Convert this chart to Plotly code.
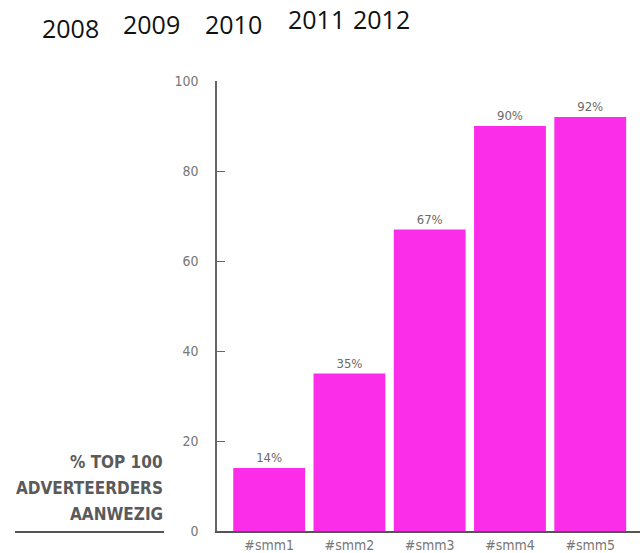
import plotly.graph_objects as go

categories = ["#smm1", "#smm2", "#smm3", "#smm4", "#smm5"]
values = [14, 35, 67, 90, 92]
value_labels = ["14%", "35%", "67%", "90%", "92%"]
years = ["2008", "2009", "2010", "2011", "2012"]
side_label = ["% TOP 100", "ADVERTEERDERS", "AANWEZIG"]
y_ticks = [0, 20, 40, 60, 80, 100]

W, H = 640, 553
L, R, T, B = 217, 0, 81, 22
pw, ph = W - L - R, H - T - B

def px(x):
    return (x - L) / pw

def py(y):
    return (H - B - y) / ph

fig = go.Figure()
fig.add_trace(go.Bar(
    x=list(range(len(categories))), y=values,
    marker=dict(color="#fc2de8", line=dict(width=0)),
    text=value_labels, textposition="outside",
    textfont=dict(family="DejaVu Sans Condensed, DejaVu Sans", size=13, color="#6a6a6a"),
    cliponaxis=False,
))

year_pos = [(40, 27.5), (121, 23.5), (203, 24), (286, 19), (351, 19)]
annotations = []
for t, (x, y) in zip(years, year_pos):
    annotations.append(dict(text=t, xref="paper", yref="paper", x=px(x), y=py(y),
                            xanchor="left", yanchor="middle", showarrow=False,
                            font=dict(family="Open Sans", size=25, color="#111")))
for t, y in zip(side_label, [462, 488, 514]):
    annotations.append(dict(text=t, xref="paper", yref="paper", x=px(165), y=py(y),
                            xanchor="right", yanchor="middle", showarrow=False,
                            font=dict(family="DejaVu Sans Condensed, DejaVu Sans", size=17,
                                      color="#5a5a5a", weight="bold")))

fig.update_layout(
    width=W, height=H,
    margin=dict(l=L, r=R, t=T, b=B),
    paper_bgcolor="white", plot_bgcolor="white",
    showlegend=False, bargap=0.105,
    annotations=annotations,
    shapes=[dict(type="line", xref="paper", yref="paper", x0=px(15), x1=px(164), y0=py(532), y1=py(532),
                 line=dict(color="#555", width=2))],
    xaxis=dict(range=[-0.65, 4.62], tickmode="array", tickvals=list(range(len(categories))),
               ticktext=categories, showgrid=False, zeroline=False, showline=True,
               linecolor="#555", linewidth=2, ticks="",
               tickfont=dict(family="DejaVu Sans Condensed, DejaVu Sans", size=14, color="#777")),
    yaxis=dict(range=[0, 100], tickvals=y_ticks, showgrid=False, zeroline=False,
               showline=True, linecolor="#666", linewidth=1.5, ticks="inside", ticklen=8,
               tickcolor="#666", ticklabelstandoff=14,
               tickfont=dict(family="DejaVu Sans Condensed, DejaVu Sans", size=14, color="#777")),
)
fig.write_html("out.html")
